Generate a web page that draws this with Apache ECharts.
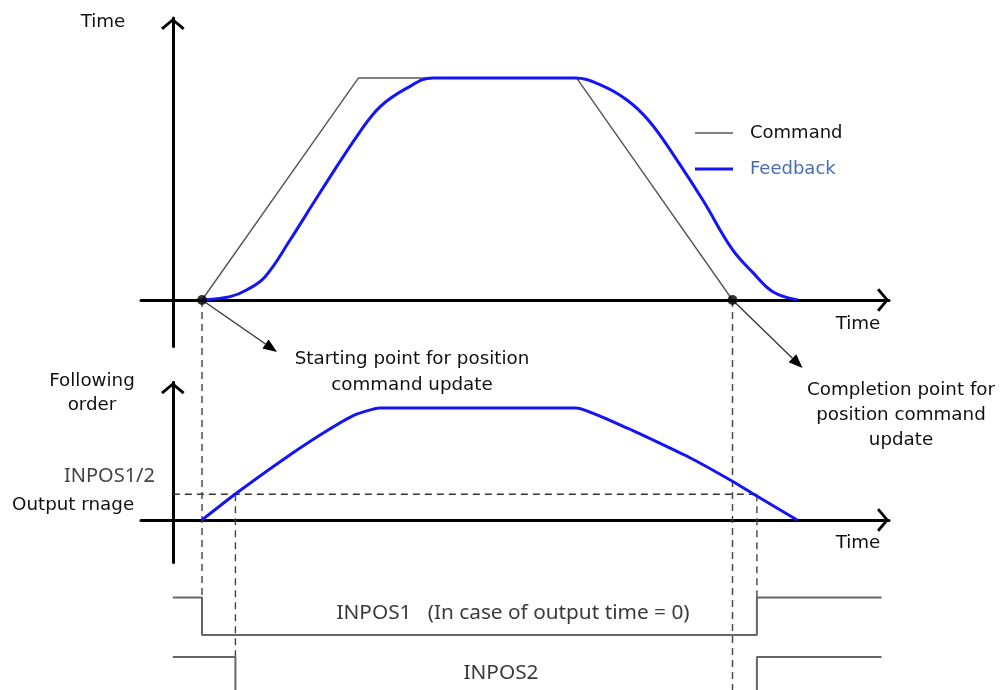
<!DOCTYPE html>
<html>
<head>
<meta charset="utf-8">
<script src="https://cdn.jsdelivr.net/npm/echarts@6/dist/echarts.min.js"></script>
<style>
  html, body { margin: 0; padding: 0; background: #fff; }
  #chart { width: 1004px; height: 690px; }
</style>
</head>
<body>
<div id="chart"></div>
<script>
// ---- Position command vs. feedback (time in ms, position in % of stroke) ----
const commandTime = [5.5, 35.0, 76.1, 105.5];
const commandPos = [0, 100, 100, 0];

const feedbackTime = [5.5, 10.8, 13.9, 17.4, 22.1, 27.7, 35.3, 39.1, 44.1, 49.0,
                      75.8, 80.5, 85.6, 89.9, 95.0, 99.9, 105.4, 109.4, 113.1, 117.8];
const feedbackPos = [0, 1.5, 4.5, 10.5, 27, 48.2, 75.8, 87.1, 95.4, 100,
                     100, 97, 90.1, 80.3, 63.1, 45, 23.0, 12.2, 3.7, 0];

// ---- Following error (% of peak) ----
const errorTime = [5.5, 11.65, 20.5, 28.2, 34.3, 38.9, 76.0, 85.8, 97.3, 105.4, 109.6, 117.7];
const errorValue = [0, 22.7, 52.9, 77.1, 93.8, 100, 100, 81.7, 56, 34.8, 22.7, 0];
const inposRange = 23;

// ---- Command update events ----
const updateStart = 5.5;
const updateEnd = 105.5;

// ---- INPOS outputs (1 = on, 0 = off) ----
const inpos1Time = [0, 5.5, 5.5, 110.1, 110.1, 133.6];
const inpos1State = [1, 1, 0, 0, 1, 1];
const inpos2Time = [0, 11.8, 11.8, 110.1, 110.1, 133.6];
const inpos2State = [1, 1, 0, 0, 1, 1];

const zip = (xs, ys) => xs.map((x, i) => [x, ys[i]]);

const TEXT_FONT = '"DejaVu Sans", Verdana, sans-serif';
const SIGNAL_FONT = '"Noto Sans", "Open Sans", sans-serif';
const CMD_COLOR = '#555';
const FB_COLOR = '#1414f5';

// open chevron used as the axis arrow head (points up, rotated by the axis)
const chevron = 'path://M12,0 L24,10 L22,12.2 L12,3.6 L2,12.2 L0,10 Z';

function axisLineStyle(visible) {
  return {
    show: visible,
    onZero: true,
    lineStyle: { color: '#000', width: 3 },
    symbol: ['none', chevron],
    symbolSize: [24, 12],
    symbolOffset: [0, -6]
  };
}

function xAxis(gridIndex, visible) {
  return {
    type: 'value', gridIndex, min: -6, max: 135,
    axisLine: axisLineStyle(visible),
    axisTick: { show: false }, axisLabel: { show: false }, splitLine: { show: false }
  };
}
function yAxis(gridIndex, min, max, visible) {
  return {
    type: 'value', gridIndex, min, max,
    axisLine: axisLineStyle(visible),
    axisTick: { show: false }, axisLabel: { show: false }, splitLine: { show: false }
  };
}

// signal lanes in the bottom panel
const lane1 = { low: 55, high: 92.5 };
const lane2 = { low: -4.5, high: 33 };
const toLane = (lane, states) => states.map(s => s ? lane.high : lane.low);

const chart = echarts.init(document.getElementById('chart'), null, { renderer: 'canvas' });

const option = {
  animation: false,
  backgroundColor: '#fff',
  grid: [
    { left: 141, width: 748, top: 18, height: 328.6, outerBoundsMode: 'none', containLabel: false },
    { left: 141, width: 748, top: 382.2, height: 180.3, outerBoundsMode: 'none', containLabel: false },
    { left: 141, width: 748, top: 590, height: 110, outerBoundsMode: 'none', containLabel: false }
  ],
  xAxis: [xAxis(0, true), xAxis(1, true), xAxis(2, false)],
  yAxis: [yAxis(0, -21, 127, true), yAxis(1, -38, 123, true), yAxis(2, -10, 100, false)],
  legend: {
    orient: 'vertical',
    left: 690, top: 119,
    itemWidth: 38, itemHeight: 14, itemGap: 18,
    textStyle: { fontFamily: TEXT_FONT, fontSize: 18, color: '#111', padding: [0, 0, 0, 12] },
    data: [
      { name: 'Command', icon: 'path://M0,0 L38,0 L38,1.5 L0,1.5 Z' },
      { name: 'Feedback', icon: 'path://M0,0 L38,0 L38,3 L0,3 Z', textStyle: { color: '#4a6cae' } }
    ]
  },
  series: [
    {
      name: 'Command', type: 'line', xAxisIndex: 0, yAxisIndex: 0,
      data: zip(commandTime, commandPos), symbol: 'none',
      lineStyle: { color: CMD_COLOR, width: 1.4 }, itemStyle: { color: CMD_COLOR }, z: 3
    },
    {
      name: 'Feedback', type: 'line', xAxisIndex: 0, yAxisIndex: 0,
      data: zip(feedbackTime, feedbackPos), symbol: 'none', smooth: 0.4,
      lineStyle: { color: FB_COLOR, width: 3 }, itemStyle: { color: FB_COLOR }, z: 4
    },
    {
      name: 'Update points', type: 'scatter', xAxisIndex: 0, yAxisIndex: 0,
      data: [[updateStart, 0], [updateEnd, 0]], symbolSize: 10,
      itemStyle: { color: '#000' }, z: 6, silent: true
    },
    {
      name: 'Following error', type: 'line', xAxisIndex: 1, yAxisIndex: 1,
      data: zip(errorTime, errorValue), symbol: 'none', smooth: 0.15,
      lineStyle: { color: FB_COLOR, width: 3 }, z: 4
    },
    {
      name: 'INPOS range', type: 'line', xAxisIndex: 1, yAxisIndex: 1,
      data: [[0, inposRange], [inpos1Time[3], inposRange]], symbol: 'none',
      lineStyle: { color: '#333', width: 1.4, type: [7, 5] }, z: 2
    },
    {
      name: 'INPOS1', type: 'line', xAxisIndex: 2, yAxisIndex: 2,
      data: zip(inpos1Time, toLane(lane1, inpos1State)), symbol: 'none',
      lineStyle: { color: '#666', width: 2 }, z: 3
    },
    {
      name: 'INPOS2', type: 'line', xAxisIndex: 2, yAxisIndex: 2,
      data: zip(inpos2Time, toLane(lane2, inpos2State)), symbol: 'none',
      lineStyle: { color: '#666', width: 2 }, z: 3
    }
  ]
};

chart.setOption(option);

// ---- guides and annotations placed through the axes' own scales ----
const px = (g, t, v) => chart.convertToPixel({ gridIndex: g }, [t, v]);
const dash = { stroke: '#444', lineWidth: 1.4, lineDash: [7, 5] };

function vGuide(t, fromGrid, fromVal, toGrid, toVal) {
  const a = px(fromGrid, t, fromVal), b = px(toGrid, t, toVal);
  return { type: 'line', z: 1, silent: true, shape: { x1: a[0], y1: a[1], x2: a[0], y2: b[1] }, style: dash };
}

function arrow(from, dx, dy) {
  const x0 = from[0], y0 = from[1], x1 = x0 + dx, y1 = y0 + dy;
  const ang = Math.atan2(dy, dx), L = 14, W = 5.5;
  const bx = x1 - L * Math.cos(ang), by = y1 - L * Math.sin(ang);
  const nx = -Math.sin(ang) * W, ny = Math.cos(ang) * W;
  return [
    { type: 'line', z: 5, silent: true, shape: { x1: x0, y1: y0, x2: bx, y2: by }, style: { stroke: '#333', lineWidth: 1.3 } },
    { type: 'polygon', z: 5, silent: true, shape: { points: [[x1, y1], [bx + nx, by + ny], [bx - nx, by - ny]] }, style: { fill: '#000' } }
  ];
}

function label(text, x, y, opts) {
  return {
    type: 'text', x, y, z: 10, silent: true,
    style: Object.assign({
      text, fill: '#111', fontFamily: TEXT_FONT, fontSize: 18.3,
      align: 'center', verticalAlign: 'middle', lineHeight: 25
    }, opts || {})
  };
}

const inpos1High = lane1.high, inpos2High = lane2.high;
const graphics = [
  vGuide(updateStart, 0, 0, 2, inpos1High),
  vGuide(inpos2Time[1], 1, inposRange, 2, inpos2High),
  vGuide(updateEnd, 0, 0, 2, -10),
  vGuide(inpos1Time[3], 1, inposRange, 2, inpos1High),
  ...arrow(px(0, updateStart, 0), 75, 52),
  ...arrow(px(0, updateEnd, 0), 70, 68),
  label('Time', 103, 22),
  label('Time', 858, 324),
  label('Time', 858, 543),
  label('Starting point for position\ncommand update', 412, 372, { lineHeight: 26 }),
  label('Completion point for\nposition command\nupdate', 901, 415),
  label('Following\norder', 92, 393, { lineHeight: 24 }),
  label('INPOS1/2', 155, 476, { align: 'right', fontFamily: SIGNAL_FONT, fontSize: 20, fill: '#444' }),
  label('Output rnage', 12, 505, { align: 'left' }),
  label('INPOS1   (In case of output time = 0)', 513, 613, { fontFamily: SIGNAL_FONT, fontSize: 20.8, fill: '#3a3a3a' }),
  label('INPOS2', 501, 673, { fontFamily: SIGNAL_FONT, fontSize: 20.8, fill: '#3a3a3a' })
];

chart.setOption({ graphic: graphics });
</script>
</body>
</html>
